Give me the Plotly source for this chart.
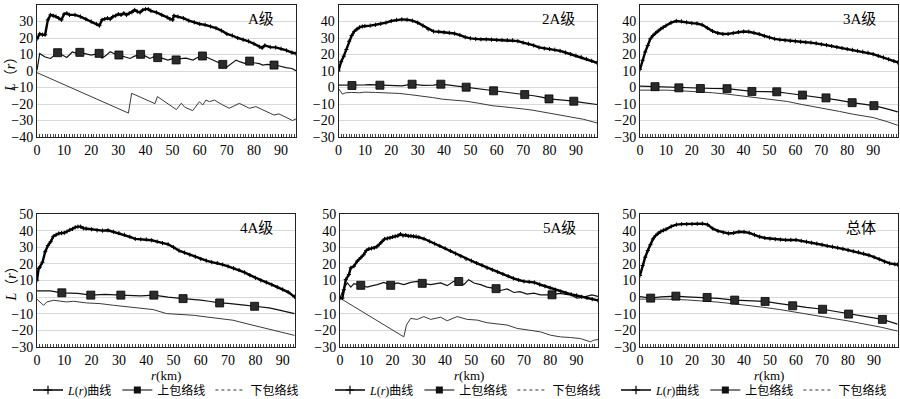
import plotly.graph_objects as go

# ---------------- data ----------------
panel_names = ["A级", "2A级", "3A级", "4A级", "5A级", "总体"]
x_max = [95.5, 98.0, 99.6, 94.5, 98.2, 99.2]
y_ranges = [[-40, 40], [-30, 50], [-30, 50], [-30, 50], [-30, 50], [-30, 50]]
x_tick_vals = [0, 10, 20, 30, 40, 50, 60, 70, 80, 90]

# A级
LA_x = [0,1,2,3,4,5,6,7,8,9,10,11,12,14,16,18,20,22,23,24,25,26,27,28,29,30,31,32,33,34,35,36,37,38,39,40,41,42,44,46,48,49,50,50.5,52,54,56,58,60,62,64,66,68,70,72,74,76,78,80,82,83,84,86,88,90,92,94,95.5]
LA_y = [19.5,22.5,22,22,31,34,33.5,33,32,31,34.5,35,34,34,33,31.5,30,28.5,27.5,31,31.5,32,31.5,33,33.5,34.5,34,35,34,35,35.5,37,36,35.5,37,37.5,37.5,36.5,35.5,34,32.5,31.5,31,33.5,33,32,30.5,29.5,28.5,28,27,26,24.5,22.5,21.5,20,19,18,16.5,14.7,14,15.5,14.5,14.3,13.5,12.5,11.2,10.6]
UA_x = [0,1,2,3,5,7,7.6,9,11,13,15,15.8,18,20,22.9,24,25.5,27,28.5,30.2,32,34.3,36,38.2,40,41.6,43,44.5,46,48.3,50,51.3,53,55,57.5,59,61,63,65,67,68.5,69.8,72,73.4,75,76.5,78.4,80,82,83.2,85,87.4,89,91.8,94,95.5]
UA_y = [0.5,10.6,9.5,8.5,7.6,10.5,11.1,10,8.2,11.5,10.5,11.3,10.5,9.6,10.7,7.8,9.5,11.7,10.5,9.7,9,7.6,9,10.1,9,7.6,8.5,8.1,7.8,6.6,7.5,6.7,7.5,7.8,6.6,8,9.1,8,6.6,5.5,4,2.1,5,6.6,5.5,4.6,6,5,4.5,3.6,4,3.6,3.2,2.1,1.5,0.2]
SA_x = [7.6,15.8,22.9,30.2,38.2,44.5,51.3,61,68.5,78.4,87.4]
SA_y = [11.1,11.3,10.7,9.7,10.1,8.1,6.7,9.1,4,6,3.6]
DA_x = [0,33.7,34.9,43.5,44.4,49,51.4,53.2,54.5,57.4,59.9,61.1,62.3,63.6,65.4,68.5,70.9,74.6,78.3,80.7,84,87.4,89.2,94.2,95.5]
DA_y = [-1,-25.5,-13.5,-19.8,-15.5,-20.5,-23.4,-19.5,-22,-24,-18.6,-20.6,-17.6,-18.6,-17.6,-20.6,-22.6,-19.6,-22.6,-21.6,-24,-26.7,-26,-30,-29]

# 2A级
L2_x = [0,1,2,3,4,5,6,7,8,9,10] + list(range(12, 99, 2))
L2_y = [10,15.6,19,23,28,31.5,34,35.5,36.5,37,37.3,
        37.5,38,38.6,39.3,40.3,41,41.3,41.1,40.5,39.3,
        37.5,35.3,34,33.8,33.5,33.2,32.7,31.8,30.5,29.8,
        29.4,29.2,29.2,29,28.8,28.8,28.7,28.6,28.1,27.2,
        26.5,25.5,24.3,23.7,23.3,22.9,22.2,21.2,20.2,19.3,
        18.4,17.3,16.2,15]
U2_x = [0,3,5.1,8,10,12,15.7,18,20,24,27.9,32,36,38.8,42,45,48.4,52,55,58.8,62,66,70.6,74,77,79.8,83,86,89.2,92,95,98]
U2_y = [1.5,1.5,1.2,1.3,1.6,1.7,1.4,1.2,1,1,2,1.3,1.4,2,1.5,0.9,0.2,-0.3,-1,-2,-2.3,-3,-4.3,-5,-5.8,-6.9,-7.3,-7.6,-8.3,-9,-9.7,-10.3]
S2_x = [5.1,15.7,27.9,38.8,48.4,58.8,70.6,79.8,89.2]
S2_y = [1.2,1.4,2,2,0.2,-2,-4.3,-6.9,-8.3]
D2_x = [0,1.5,2.8,5,8,10,14,18,20,23,27,31,35.7,39.5,44,48.4,53,58.6,62,66.2,70,73.8,78,81.4,85,89,93,98]
D2_y = [-0.6,-4,-3.2,-3,-3.2,-2.8,-3,-3.2,-3.4,-3.6,-4.3,-5,-6.1,-7.1,-7.6,-8.3,-9.5,-11.1,-11.6,-12.1,-13,-13.8,-15,-16.2,-17,-18.2,-19.3,-21.5]

# 3A级
L3_x = [0,1,2,3,4,5,6,7,8,9,10] + list(range(12, 99, 2)) + [99.5]
L3_y = [11,16.5,21.5,25.5,29.5,31.5,33,34.3,35.5,36.5,37.5,
        39.3,40.3,40.1,39.5,39,38.8,38,36.1,34.2,33,
        32.4,32.5,33,33.6,33.9,33.8,33.2,32.4,31.3,30.3,
        29.5,29,28.6,28.3,28,27.7,27.4,27.2,26.8,26.2,
        25.7,25.1,24.5,23.9,23.3,22.8,22.2,21.7,21.1,20.2,
        19.2,18.2,17.1,16,15.2]
U3_x = [0,5.8,10,15,20,23.3,28,33.6,38,43.2,48,52.8,57,62.7,67,71.8,76,81.9,86,90.3,95,99.5]
U3_y = [0.8,0.5,0.2,-0.2,-0.4,-0.6,-0.6,-0.7,-1.5,-2.4,-2.5,-2.6,-3.5,-4.6,-5.4,-6.3,-7.5,-9.2,-10,-11,-12.8,-14.8]
S3_x = [5.8,15,23.3,33.6,43.2,52.8,62.7,71.8,81.9,90.3]
S3_y = [0.5,-0.2,-0.6,-0.7,-2.4,-2.6,-4.6,-6.3,-9.2,-11]
D3_x = [0,5,10.5,16,23.3,28,33.6,38,42.6,48,52.8,57,61.8,67,72,77,82.3,86,90,95,99.5]
D3_y = [-1.6,-1.5,-1.6,-2,-2.6,-3.2,-4,-4.8,-5.7,-6.5,-7.3,-8.5,-10.1,-11.5,-12.8,-14.5,-16.2,-17.2,-18.2,-20.5,-22.9]

# 4A级
L4_x = [0,0.6,1,2,3,4,5,6,7,8,9,10,11,12,13,14,15,16,17,18] + list(range(20, 93, 2)) + [94.3]
L4_y = [10.2,17.2,18,21,27.3,31,33.3,36.5,37.5,38.3,38.5,38.7,39.5,40.4,41,42,42.4,42.4,41.4,41.2,
        40.8,40.2,40,40.2,39.3,38.5,37.5,36.3,35,34.8,
        34.7,34.2,33.4,32.5,31.8,30,28,26.8,25.5,24.3,
        22.9,22,21,20.5,19.6,18.5,17.4,16.3,14.9,13.2,
        11.6,10,8.9,7.5,6,4.6,3,
        0.2]
U4_x = [0,4.9,9.1,12,15,19.7,25,30.7,35,38,42.8,45,48,53.5,57,60,63,66.9,70,72,76,79.7,82,85,88,91,94.3]
U4_y = [3.8,3.8,2.6,2.6,2.2,1.2,1.6,1.2,0.8,0.7,1.2,0.6,0,-0.9,-1.2,-1.8,-2.5,-3.5,-3.8,-4,-4.8,-5.5,-5.8,-6.5,-7.5,-8.6,-9.9]
S4_x = [9.1,19.7,30.7,42.8,53.5,66.9,79.7]
S4_y = [2.6,1.2,1.2,1.2,-0.9,-3.5,-5.5]
D4_x = [0,1.8,2.4,3.6,6.1,10.9,13.4,18.2,23.1,28,32.8,37.7,42.6,47.4,52.3,57.2,62,66.9,71.8,76.6,81.5,86.4,91.2,94.3]
D4_y = [-1.3,-3.9,-4.9,-2.9,-1.9,-2.9,-2.5,-3.5,-3.9,-4.9,-5.9,-6.5,-7.5,-9.9,-10.3,-10.9,-11.9,-13.1,-13.9,-15.9,-17.9,-19.9,-21.6,-23]

# 5A级
L5_x = [0,0.9,1.5,2.2,3.4,4.1,5.3,6.6,7.9] + list(range(9, 31)) + list(range(32, 97, 2)) + [98.2]
L5_y = [-0.6,-0.6,4.5,10.5,13.6,17.6,18.6,21.7,23.7,
        25.5,28,29,29.3,29.6,30.3,31.8,33.5,35,35.3,35.6,36.2,36.6,36.9,37.9,37,37.3,36.8,36.8,36.6,36.4,36,
        35.1,33.6,32.2,30.8,29.4,27.8,26.2,24.6,23,21.9,
        20.5,19.2,17.6,16.4,15.2,13.9,12.6,11.3,10.3,9.5,
        9.2,8.8,7.6,6.6,5.6,4.4,3.4,2.5,1.7,1,
        0.2,-0.5,-1.2,
        -2]
U5_x = [0,1.5,2.8,4.1,5.3,7.9,10.4,12,14.2,16.7,19.3,21.8,24.3,26.9,29.4,31.3,34.5,38.3,40.8,43.3,45.2,47.1,49,51,53.5,56,59.4,61.1,63.6,66.2,68.5,71.2,73.8,76.3,80.7,83.5,86.4,88,90.2,92.8,95.9,98.2]
U5_y = [-0.6,5.5,8.5,6,8.1,7.1,6,6.8,7.5,8.9,7.1,8.5,7.5,8.9,9.5,8.3,7.5,8.5,6.9,9.5,9.4,7.5,10.5,8.5,7.5,6,5.1,4,4.9,2.8,3.3,1.8,2.4,1.4,1.4,2.2,1.4,1.2,-0.6,0,1.4,0.4]
S5_x = [7.9,19.3,31.3,45.2,59.4,80.7]
S5_y = [7.1,7.1,8.3,9.4,5.1,1.4]
D5_x = [0,24.3,25.3,26.9,29.4,31.9,34.5,38.3,40.8,44.6,48.4,52.2,56,59.8,63.6,67.4,72.5,76.3,80.1,83.9,87.7,91.5,95.3,96.6,98.2]
D5_y = [-0.6,-23.9,-16.8,-12.8,-13.4,-11.7,-13.4,-12.1,-14.2,-11.7,-13.4,-13.8,-15.4,-16.2,-16.8,-18.8,-20.2,-20.9,-22.9,-23.9,-24.3,-24.9,-26.9,-25.9,-25.5]

# 总体
L6_x = [0,1,2,3,4,5,6,7,8,9,10] + list(range(12, 99, 2)) + [99]
L6_y = [13,19,24,28,31.5,35,37,38.5,39.5,40.2,40.8,
        42.5,43.6,43.9,43.9,43.9,44.1,44.2,43.6,41.2,39.8,
        38.9,38.3,38.6,39.3,39.2,38.7,37.5,36.3,35.6,35.2,
        34.8,34.6,34.4,34.4,34.4,33.8,33.3,32.7,32.2,31.5,
        30.8,30.3,29.7,29,28.3,27.6,27,26.2,25.2,24,
        22.8,21.3,20.3,19.8,
        19.6]
U6_x = [0,4.1,8,13.8,18,22,25.8,30,36.4,42,48.1,53,58.7,64,70.2,75,80.2,86,93.2,99]
U6_y = [0.3,-0.6,0.2,0.6,0.2,0,-0.2,-0.8,-1.8,-2.2,-2.6,-3.8,-5.2,-6.2,-7.3,-8.5,-10.2,-11.5,-13.4,-16.2]
S6_x = [4.1,13.8,25.8,36.4,48.1,58.7,70.2,80.2,93.2]
S6_y = [-0.6,0.6,-0.2,-1.8,-2.6,-5.2,-7.3,-10.2,-13.4]
D6_x = [0,10.2,18,23,30,35.8,42,48.5,55,61.3,68,74.1,80,86.8,93,99]
D6_y = [-1.2,-1.2,-1.7,-2.2,-3,-4,-5,-6.3,-7.8,-9.3,-11,-12.8,-14.3,-16.2,-18.2,-20.4]

legend_names = ["<i>L</i>(<i>r</i>)曲线", "上包络线", "下包络线"]
x_title = "<i>r</i>(km)"
y_title = "<i>L</i>（<i>r</i>）"

series = [
    (LA_x, LA_y, UA_x, UA_y, SA_x, SA_y, DA_x, DA_y),
    (L2_x, L2_y, U2_x, U2_y, S2_x, S2_y, D2_x, D2_y),
    (L3_x, L3_y, U3_x, U3_y, S3_x, S3_y, D3_x, D3_y),
    (L4_x, L4_y, U4_x, U4_y, S4_x, S4_y, D4_x, D4_y),
    (L5_x, L5_y, U5_x, U5_y, S5_x, S5_y, D5_x, D5_y),
    (L6_x, L6_y, U6_x, U6_y, S6_x, S6_y, D6_x, D6_y),
]

# ---------------- layout geometry ----------------
W, H = 900, 399
x_doms_px = [(37, 296), (338.5, 597), (640, 898), (37, 295), (340, 598), (640, 898)]
y_doms_px = [(5, 137)] * 3 + [(214, 347)] * 3
FONT = "Liberation Serif, Times New Roman, Noto Sans CJK SC, serif"
CJK = "Liberation Serif, Noto Sans CJK SC, serif"

fig = go.Figure()
layout = {}
annotations = []

for i, (lx, ly, ux, uy, sx, sy, dx, dy) in enumerate(series):
    n = i + 1
    xa = "x" if n == 1 else f"x{n}"
    ya = "y" if n == 1 else f"y{n}"
    common = dict(xaxis=xa, yaxis=ya, showlegend=False, hoverinfo="skip")
    fig.add_trace(go.Scatter(x=dx, y=dy, mode="lines",
                             line=dict(color="#3a3a3a", width=1), **common))
    fig.add_trace(go.Scatter(x=ux, y=uy, mode="lines",
                             line=dict(color="#111111", width=1.2), **common))
    fig.add_trace(go.Scatter(x=sx, y=sy, mode="markers",
                             marker=dict(symbol="square", size=8, color="#2b2b2b",
                                         line=dict(color="#000000", width=0.8)), **common))
    fig.add_trace(go.Scatter(x=lx, y=ly, mode="lines+markers",
                             line=dict(color="#000000", width=2.4),
                             marker=dict(symbol="cross-thin", size=3,
                                         line=dict(color="#000000", width=1)), **common))

    x0, x1 = x_doms_px[i]
    yt, yb = y_doms_px[i]
    xkey = "xaxis" if n == 1 else f"xaxis{n}"
    ykey = "yaxis" if n == 1 else f"yaxis{n}"
    layout[xkey] = dict(
        domain=[x0 / W, x1 / W], anchor=ya, range=[0, x_max[i]],
        tickvals=x_tick_vals, ticks="inside", ticklen=3, tickcolor="#222",
        minor=dict(dtick=1, ticks="inside", ticklen=3, tickcolor="#444", showgrid=False),
        showgrid=False, zeroline=False, showline=True, linecolor="#222", linewidth=1,
        mirror=True, automargin=False,
        tickfont=dict(family=FONT, size=14, color="#000"),
    )
    layout[ykey] = dict(
        domain=[1 - yb / H, 1 - yt / H], anchor=xa, range=y_ranges[i],
        dtick=10, ticks="", showgrid=True, gridcolor="#d9d9d9", gridwidth=1.2,
        zeroline=False, showline=True, linecolor="#222", linewidth=1, mirror=True,
        automargin=False,
        tickfont=dict(family=FONT, size=14, color="#000"),
    )
    annotations.append(dict(
        text=panel_names[i], xref=f"{xa} domain", yref=f"{ya} domain",
        x=1, y=1, xanchor="right", yanchor="middle", xshift=-20, yshift=-14,
        showarrow=False, font=dict(family=CJK, size=15, color="#000"),
    ))
    if n > 3:  # x-axis title under the bottom row
        annotations.append(dict(
            text=x_title, xref=f"{xa} domain", yref="paper",
            x=0.5, y=1 - 375 / H, xanchor="center", yanchor="middle",
            showarrow=False, font=dict(family=FONT, size=13, color="#000"),
        ))
    if n in (1, 4):  # y-axis title on the left column
        annotations.append(dict(
            text=y_title, xref="paper", yref=f"{ya} domain",
            x=11 / W, y=0.5, xanchor="center", yanchor="middle", textangle=-90,
            showarrow=False, font=dict(family=FONT, size=14, color="#000"),
        ))

# legends under each column
legend_keys = ["legend", "legend2", "legend3"]
legend_x = [28 / W, 330 / W, 616 / W]
for j, lk in enumerate(legend_keys):
    xa = ["x4", "x5", "x6"][j]
    ya = ["y4", "y5", "y6"][j]
    fig.add_trace(go.Scatter(x=[None], y=[None], mode="lines+markers", name=legend_names[0],
                             line=dict(color="#000", width=1.5),
                             marker=dict(symbol="cross-thin", size=6, line=dict(color="#000", width=1.2)),
                             legend=lk, xaxis=xa, yaxis=ya))
    fig.add_trace(go.Scatter(x=[None], y=[None], mode="lines+markers", name=legend_names[1],
                             line=dict(color="#000", width=1.2),
                             marker=dict(symbol="square", size=7, color="#111"),
                             legend=lk, xaxis=xa, yaxis=ya))
    fig.add_trace(go.Scatter(x=[None], y=[None], mode="lines", name=legend_names[2],
                             line=dict(color="#333", width=1, dash="dot"),
                             legend=lk, xaxis=xa, yaxis=ya))
    layout[lk] = dict(orientation="h", x=legend_x[j], xanchor="left",
                      xref="container", yref="container",
                      y=1 - 390 / H, yanchor="middle", itemwidth=30,
                      font=dict(family=CJK, size=12, color="#000"),
                      bgcolor="rgba(0,0,0,0)", tracegroupgap=0, itemclick=False)

fig.update_layout(
    width=W, height=H, margin=dict(l=0, r=0, t=0, b=0, autoexpand=False),
    paper_bgcolor="white", plot_bgcolor="white",
    annotations=annotations, **layout,
)

# remove the browser's default page margin so the 900x399 figure fills the window
fig.write_html("out.html", config={"displayModeBar": False},
               post_script="document.body.style.margin='0px';")
